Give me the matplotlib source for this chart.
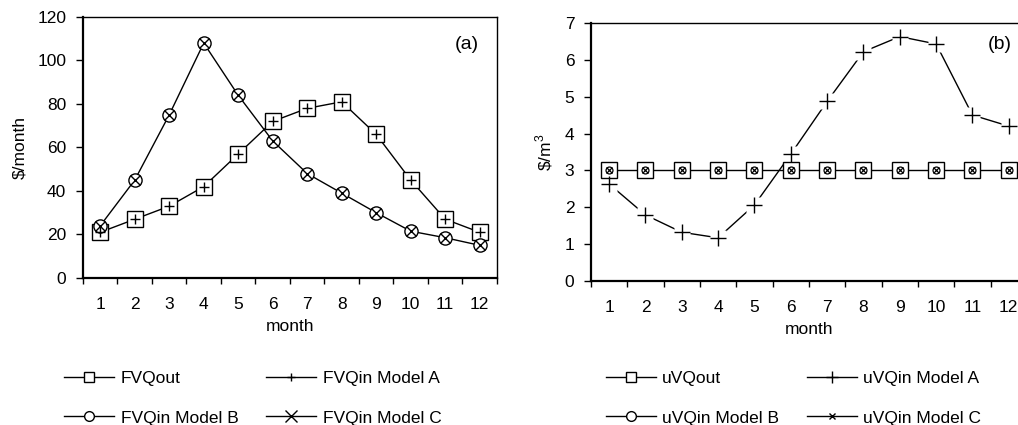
import numpy as np
import matplotlib
matplotlib.use("Agg")
import matplotlib.pyplot as plt
from matplotlib.lines import Line2D

plt.rcParams['font.family'] = ['Liberation Sans', 'DejaVu Sans']
plt.rcParams['font.size'] = 12.5

months = np.arange(1, 13)
month_labels = [str(m) for m in months]

# panel (a), $/month
fvq_out = [21, 27, 33, 42, 57, 72, 78, 81, 66, 45, 27, 21]
fvq_in_a = [21, 27, 33, 42, 57, 72, 78, 81, 66, 45, 27, 21]
fvq_in_b = [24, 45, 75, 108, 84, 63, 48, 39, 30, 21.5, 18.5, 15]
fvq_in_c = [24, 45, 75, 108, 84, 63, 48, 39, 30, 21.5, 18.5, 15]

# panel (b), $/m3
uvq_out = [3, 3, 3, 3, 3, 3, 3, 3, 3, 3, 3, 3]
uvq_in_a = [2.63, 1.79, 1.32, 1.17, 2.06, 3.44, 4.87, 6.22, 6.63, 6.43, 4.5, 4.2]
uvq_in_b = [3, 3, 3, 3, 3, 3, 3, 3, 3, 3, 3, 3]
uvq_in_c = [3, 3, 3, 3, 3, 3, 3, 3, 3, 3, 3, 3]


def style_axes(ax, ymax, ystep):
    ax.set_xlim(0.5, 12.5)
    ax.set_ylim(0, ymax)
    ax.set_yticks(np.arange(0, ymax + ystep / 2, ystep))
    ax.set_xticks(np.arange(0.5, 13, 1))
    ax.set_xticklabels([])
    ax.set_xticks(months, minor=True)
    ax.set_xticklabels(month_labels, minor=True)
    ax.tick_params(axis='x', which='major', direction='out', length=4, width=1)
    ax.tick_params(axis='x', which='minor', length=0, pad=14)
    ax.tick_params(axis='y', direction='out', length=5, width=1, pad=7)
    for s in ['left', 'bottom']:
        ax.spines[s].set_linewidth(1.6)
    for s in ['top', 'right']:
        ax.spines[s].set_linewidth(1.0)
    ax.set_xlabel('month', labelpad=5)


fig = plt.figure(figsize=(10.18, 4.25), dpi=100)
ax1 = fig.add_axes([0.0815, 0.346, 0.4067, 0.614])
ax2 = fig.add_axes([0.5805, 0.339, 0.4283, 0.607])

# (a)
ax1.plot(months, fvq_out, color='black', lw=1.0, marker='s', ms=11,
         mfc='white', mec='black', mew=1.0, zorder=3)
ax1.plot(months, fvq_in_a, color='black', lw=1.0, marker='+', ms=7,
         mew=1.0, ls='none', zorder=4)
ax1.plot(months, fvq_in_b, color='black', lw=1.0, marker='o', ms=9.5,
         mfc='white', mec='black', mew=1.0, zorder=3)
ax1.plot(months, fvq_in_c, color='black', lw=1.0, marker='x', ms=7,
         mew=1.0, ls='none', zorder=4)
style_axes(ax1, 120, 20)
ax1.set_ylabel('\\$/month', labelpad=7)
ax1.text(0.927, 0.893, '(a)', transform=ax1.transAxes, ha='center',
         va='center', fontsize=14)

# (b)
ax2.plot(months, uvq_in_a, color='black', lw=1.0, zorder=1)
ax2.plot(months, uvq_in_a, ls='none', marker='s', ms=12, mfc='white',
         mec='none', zorder=2)
ax2.plot(months, uvq_out, color='black', lw=1.0, marker='s', ms=11,
         mfc='white', mec='black', mew=1.0, zorder=3)
ax2.plot(months, uvq_in_b, ls='none', marker='o', ms=5,
         mfc='white', mec='black', mew=0.9, zorder=4)
ax2.plot(months, uvq_in_c, ls='none', marker='x', ms=4,
         mec='black', mew=0.9, zorder=5)
ax2.plot(months, uvq_in_a, ls='none', marker='+', ms=12, mec='black',
         mew=1.0, zorder=6)
style_axes(ax2, 7, 1)
ax2.set_ylabel('\\$/m$^\\mathregular{3}$', labelpad=7)
ax2.text(0.938, 0.915, '(b)', transform=ax2.transAxes, ha='center',
         va='center', fontsize=14)


def legend_handles(big_plus):
    h_out = Line2D([], [], color='black', lw=1.0, marker='s', ms=7,
                   mfc='white', mec='black', mew=1.0)
    h_a = Line2D([], [], color='black', lw=1.0, marker='+',
                 ms=9 if big_plus else 6, mew=1.0)
    h_b = Line2D([], [], color='black', lw=1.0, marker='o', ms=7,
                 mfc='white', mec='black', mew=1.0)
    h_c = Line2D([], [], color='black', lw=1.0, marker='x',
                 ms=5 if big_plus else 8, mew=1.0)
    return h_out, h_a, h_b, h_c


leg_kw = dict(ncol=2, loc='center left', frameon=False, handlelength=2.9,
              handletextpad=0.35, columnspacing=1.6, labelspacing=1.4,
              borderaxespad=0, borderpad=0)

h = legend_handles(False)
fig.legend([h[0], h[2], h[1], h[3]],
           ['FVQout', 'FVQin Model B', 'FVQin Model A', 'FVQin Model C'],
           bbox_to_anchor=(0.063, 0.063), **leg_kw)

h = legend_handles(True)
fig.legend([h[0], h[2], h[1], h[3]],
           ['uVQout', 'uVQin Model B', 'uVQin Model A', 'uVQin Model C'],
           bbox_to_anchor=(0.595, 0.063), **leg_kw)

fig.savefig('out.png', dpi=100)
